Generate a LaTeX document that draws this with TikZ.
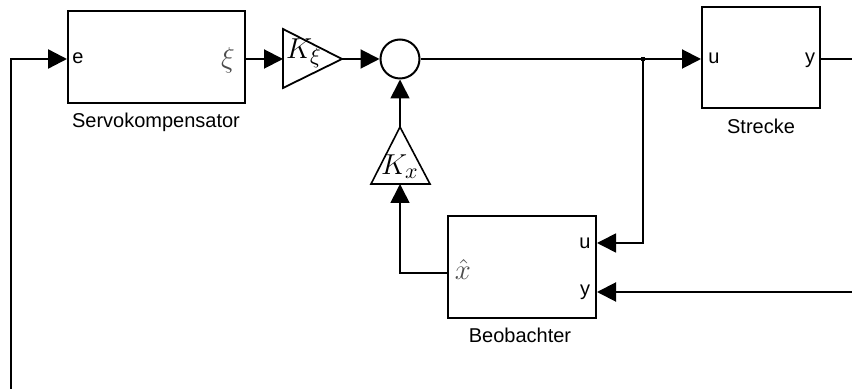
\documentclass[tikz,border=0pt]{standalone}
\usepackage{fontspec}
\setmainfont{Liberation Sans}
\usetikzlibrary{arrows.meta}
\begin{document}
\begin{tikzpicture}[x=0.5pt,y=-0.5pt,
  blk/.style={draw,line width=1pt,rectangle,inner sep=0pt},
  wire/.style={line width=1pt},
  arr/.style={line width=1pt,-{Triangle[length=9.5pt,width=9.5pt]}},
  port/.style={font=\fontsize{10}{12}\selectfont,inner sep=0pt},
  mlab/.style={font=\fontsize{15}{18}\selectfont,inner sep=0pt},
  blkcaption/.style={font=\fontsize{10}{12}\selectfont,inner sep=0pt},
  gain/.style={draw,line width=0.9pt,line join=miter}
]
\useasboundingbox (0,0) rectangle (852,389);
% blocks
\node[blk,minimum width=88.5pt,minimum height=46pt] (servo) at (156.5,57) {};
\node[blk,minimum width=59pt,minimum height=50.5pt] (strecke) at (761,57.5) {};
\node[blk,minimum width=74pt,minimum height=51pt] (beob) at (522,267) {};
\node[draw,circle,line width=1pt,minimum size=19.5pt,inner sep=0pt] (sum) at (400,59) {};
% captions
\node[blkcaption] (servocap) at (156,122) {Servokompensator};
\node[blkcaption] (streckecap) at (761,126) {Strecke};
\node[blkcaption] (beobcap) at (520,335) {Beobachter};
% ports
\node[port] (pe) at (78,58) {e};
\node[port,text=black!70] (pxi) at (228,60) {\fontsize{14.5}{17}\selectfont$\xi$};
\node[port] (pu) at (714,58) {u};
\node[port] (py) at (810,60) {y};
\node[port] (bu) at (585,243) {u};
\node[port] (by) at (585,292) {y};
\node[port,text=black!70] (bx) at (463,270) {\fontsize{14.5}{17}\selectfont$\hat{x}$};
% gains
\draw[gain] (283,29) -- (342,59) -- (283,88) -- cycle;
\node[mlab] (kxi) at (304,53) {$K_\xi$};
\draw[gain,line width=0.8pt] (400,127) -- (430,184) -- (371,184) -- cycle;
\node[mlab] (kx) at (400,167) {$K_x$};
% coordinates
\coordinate (kxiin) at (283,59);
\coordinate (kxiout) at (342,59);
\coordinate (kxtop) at (400,127);
\coordinate (kxbot) at (400,184);
\coordinate (branch) at (643,59);
\coordinate (fbbot) at (11,389);
\coordinate (fbtop) at (11,59);
\coordinate (yright) at (852,59);
\coordinate (ymeas) at (852,292);
\coordinate (xcorner) at (400,273);
% wires
\draw[arr,line width=1.2pt] (fbbot) -- (fbtop) -- (servo.west |- fbtop);
\draw[arr] (servo.east |- kxiin) -- (kxiin);
\draw[arr] (kxiout) -- (sum.west);
\draw[wire] (sum.east) -- (branch);
\draw[arr] (branch) -- (strecke.west |- branch);
\draw[arr,line width=0.8pt] (branch) -- (branch |- bu) -- (beob.east |- bu);
\fill (branch) ++(-2,-2) rectangle ++(4,4);
\draw[wire] (strecke.east |- yright) -- (yright);
\draw[arr] (ymeas) -- (beob.east |- ymeas);
\draw[arr,line width=0.8pt] (beob.west |- xcorner) -- (xcorner) -- (kxbot);
\draw[arr,line width=0.8pt] (kxtop) -- (sum.south);
\end{tikzpicture}
\end{document}
